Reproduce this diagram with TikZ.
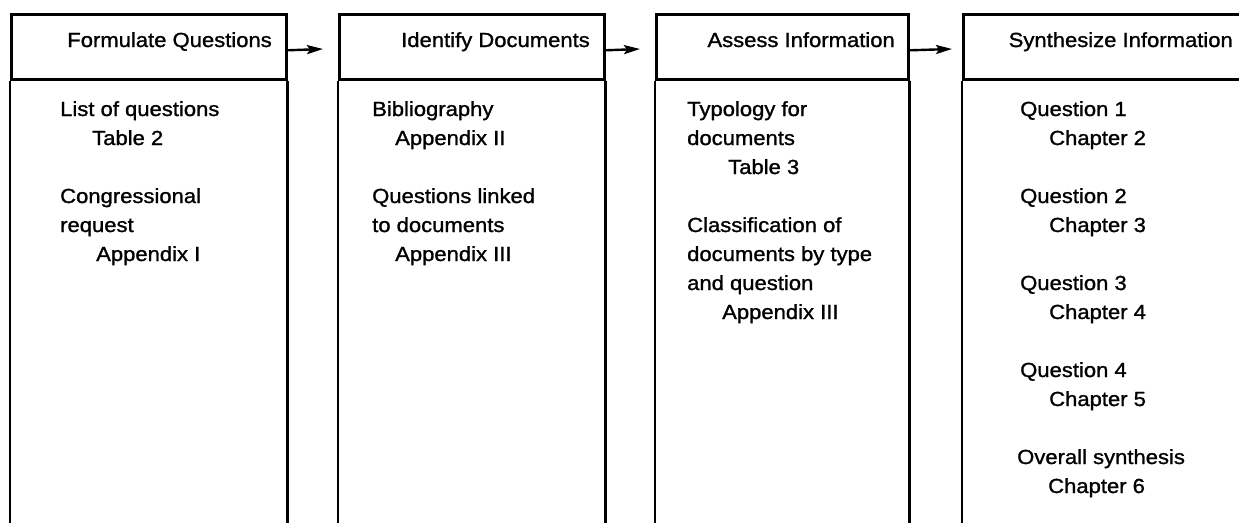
\documentclass[tikz,border=0pt]{standalone}
\usepackage{fontspec}
\setmainfont[FakeStretch=1.08,FakeBold=1.2]{Liberation Sans}
\usetikzlibrary{arrows.meta,calc}
\newcommand\txtsize{\fontsize{20.4}{29}\selectfont}
\begin{document}
\begin{tikzpicture}[x=1pt,y=-1pt,
  boxline/.style={line width=2.6pt},
  hdr/.style={draw, line width=2.6pt, inner sep=0pt, minimum height=65pt, anchor=north west},
  htext/.style={anchor=base east, inner sep=0pt, font=\txtsize},
  btext/.style={anchor=base west, inner sep=0pt, font=\txtsize},
  arr/.style={line width=2.4pt, -{Stealth[length=16pt,width=9pt,inset=3pt]}}]
\useasboundingbox (0,0) rectangle (1239,522);
\coordinate (bot) at (0,530);
% header boxes
\node[hdr, minimum width=275pt] (h1) at (10,13) {};
\node[hdr, minimum width=265pt] (h2) at (338,13) {};
\node[hdr, minimum width=252pt] (h3) at (655,13) {};
\node[hdr, minimum width=295pt] (h4) at (962,13) {};
% open bodies
\draw[boxline] (h1.south west) -- (h1.south west |- bot);
\draw[boxline] (h1.south east) -- (h1.south east |- bot);
\draw[boxline] (h2.south west) -- (h2.south west |- bot);
\draw[boxline] (h2.south east) -- (h2.south east |- bot);
\draw[boxline] (h3.south west) -- (h3.south west |- bot);
\draw[boxline] (h3.south east) -- (h3.south east |- bot);
\draw[boxline] (h4.south west) -- (h4.south west |- bot);
% header texts
\node[htext] (t1) at (272,47) {Formulate Questions};
\node[htext] (t2) at (590,47) {Identify Documents};
\node[htext] (t3) at (895,47) {Assess Information};
\node[htext] (t4) at (1233,47) {Synthesize Information};
% arrows
\coordinate (e1) at (323,49);
\coordinate (e2) at (640,49);
\coordinate (e3) at (952,49);
\draw[arr] ([yshift=-3.5pt]h1.east) -- (e1);
\draw[arr] ([yshift=-3.5pt]h2.east) -- (e2);
\draw[arr] ([yshift=-3.5pt]h3.east) -- (e3);
% column 1
\node[btext] (a1) at (60,116) {List of questions};
\node[btext] (a2) at (92,145) {Table 2};
\node[btext] (a3) at (60,203) {Congressional};
\node[btext] (a4) at (60,232) {request};
\node[btext] (a5) at (96,261) {Appendix I};
% column 2
\node[btext] (b1) at (372,116) {Bibliography};
\node[btext] (b2) at (395,145) {Appendix II};
\node[btext] (b3) at (372,203) {Questions linked};
\node[btext] (b4) at (372,232) {to documents};
\node[btext] (b5) at (395,261) {Appendix III};
% column 3
\node[btext] (c1) at (687,116) {Typology for};
\node[btext] (c2) at (687,145) {documents};
\node[btext] (c3) at (728,174) {Table 3};
\node[btext] (c4) at (687,232) {Classification of};
\node[btext] (c5) at (687,261) {documents by type};
\node[btext] (c6) at (687,290) {and question};
\node[btext] (c7) at (722,319) {Appendix III};
% column 4
\node[btext] (d1) at (1020,116) {Question 1};
\node[btext] (d2) at (1049,145) {Chapter 2};
\node[btext] (d3) at (1020,203) {Question 2};
\node[btext] (d4) at (1049,232) {Chapter 3};
\node[btext] (d5) at (1020,290) {Question 3};
\node[btext] (d6) at (1049,319) {Chapter 4};
\node[btext] (d7) at (1020,377) {Question 4};
\node[btext] (d8) at (1049,406) {Chapter 5};
\node[btext] (d9) at (1017,464) {Overall synthesis};
\node[btext] (d10) at (1048,493) {Chapter 6};
\end{tikzpicture}
\end{document}
